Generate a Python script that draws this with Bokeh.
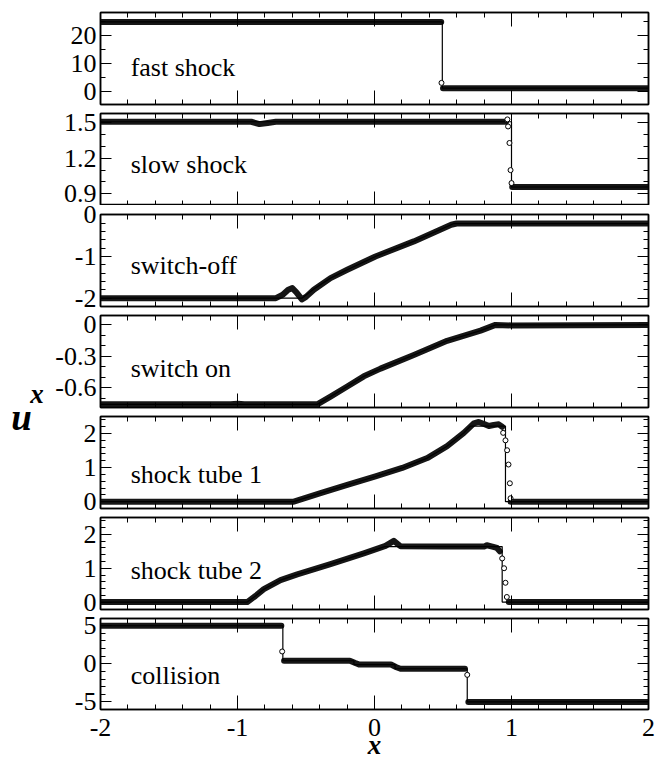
import numpy as np
from bokeh.plotting import figure
from bokeh.layouts import row, column
from bokeh.models import Range1d, FixedTicker, LinearAxis, PrintfTickFormatter, Label
from bokeh.embed import file_html
from bokeh.resources import INLINE

nan = float("nan")

# ---------------- data ----------------
x_major_ticks = [-2, -1, 0, 1, 2]
x_minor_ticks = [-1.8, -1.6, -1.4, -1.2, -0.8, -0.6, -0.4, -0.2,
                 0.2, 0.4, 0.6, 0.8, 1.2, 1.4, 1.6, 1.8]

# fast shock
fast_exact_x = [-2.0, 0.495, 0.495, 2.0]
fast_exact_y = [25.0, 25.0, 1.09, 1.09]
fast_num_x = [-2.0, 0.487, nan, 0.50, 2.0]
fast_num_y = [25.0, 25.0, nan, 1.09, 1.09]
fast_circ_x = [0.489]
fast_circ_y = [3.0]

# slow shock
slow_exact_x = [-2.0, 1.0, 1.0, 2.0]
slow_exact_y = [1.51, 1.51, 0.957, 0.957]
slow_num_x = [-2.0, -0.9, -0.84, -0.78, -0.72, 0.96, nan, 1.005, 2.0]
slow_num_y = [1.51, 1.51, 1.49, 1.50, 1.51, 1.51, nan, 0.957, 0.957]
slow_circ_x = [0.97, 0.975, 0.985, 0.993, 1.0]
slow_circ_y = [1.53, 1.47, 1.33, 1.10, 0.99]

# switch-off
soff_exact_x = [-2.0, -0.53, -0.443, -0.321, -0.199, 0.007, 0.287, 0.579, 2.0]
soff_exact_y = [-2.0, -2.0, -1.78, -1.52, -1.32, -1.0, -0.64, -0.212, -0.212]
soff_num_x = [-2.0, -0.72, -0.67, -0.63, -0.60, -0.57, -0.53, -0.50, -0.443,
              -0.321, -0.199, 0.007, 0.287, 0.56, 0.60, 2.0]
soff_num_y = [-2.0, -2.0, -1.92, -1.80, -1.76, -1.86, -2.03, -1.97, -1.80,
              -1.52, -1.32, -1.0, -0.64, -0.24, -0.212, -0.212]

# switch on
son_exact_x = [-2.0, -0.418, -0.321, -0.199, -0.078, 0.044, 0.287, 0.53, 0.774, 0.883, 2.0]
son_exact_y = [-0.76, -0.76, -0.686, -0.589, -0.492, -0.418, -0.288, -0.152, -0.055, 0.0, 0.0]
son_num_x = [-2.0, -1.05, -1.0, -0.95, -0.418, -0.321, -0.199, -0.078, 0.044,
             0.287, 0.53, 0.774, 0.883, 1.0, 2.0]
son_num_y = [-0.76, -0.76, -0.755, -0.76, -0.76, -0.686, -0.589, -0.492, -0.418,
             -0.288, -0.152, -0.055, 0.0, -0.005, 0.0]

# shock tube 1
st1_exact_x = [-2.0, -0.589, -0.394, -0.199, 0.007, 0.202, 0.385, 0.53, 0.652, 0.70,
               0.956, 0.956, 2.0]
st1_exact_y = [0.0, 0.0, 0.25, 0.49, 0.74, 0.99, 1.28, 1.63, 2.02, 2.22,
               2.22, 0.0, 0.0]
st1_num_x = [-2.0, -0.589, -0.394, -0.199, 0.007, 0.202, 0.385, 0.53, 0.652, 0.725,
             0.761, 0.80, 0.835, 0.87, 0.907, 0.932, nan, 0.993, 2.0]
st1_num_y = [0.0, 0.0, 0.25, 0.49, 0.74, 0.99, 1.28, 1.63, 2.02, 2.30,
             2.34, 2.28, 2.22, 2.25, 2.27, 2.20, nan, 0.0, 0.0]
st1_circ_x = [0.939, 0.956, 0.968, 0.978, 0.988, 0.993]
st1_circ_y = [2.02, 1.80, 1.51, 1.09, 0.54, 0.10]

# shock tube 2
st2_exact_x = [-2.0, -0.929, -0.869, -0.808, -0.686, -0.564, -0.321, -0.078, 0.075,
               0.932, 0.932, 2.0]
st2_exact_y = [0.0, 0.0, 0.18, 0.38, 0.65, 0.82, 1.12, 1.44, 1.64,
               1.64, 0.0, 0.0]
st2_num_x = [-2.0, -0.929, -0.869, -0.808, -0.686, -0.564, -0.321, -0.078, 0.08, 0.141,
             0.19, 0.5, 0.80, 0.82, 0.86, 0.894, 0.915, nan, 0.98, 2.0]
st2_num_y = [0.0, 0.0, 0.18, 0.38, 0.65, 0.82, 1.12, 1.44, 1.66, 1.81,
             1.65, 1.64, 1.64, 1.68, 1.64, 1.60, 1.50, nan, 0.0, 0.0]
st2_circ_x = [0.932, 0.946, 0.956, 0.966]
st2_circ_y = [1.29, 1.0, 0.57, 0.15]

# collision
col_exact_x = [-2.0, -0.669, -0.669, -0.15, -0.15, 0.15, 0.15, 0.677, 0.677, 2.0]
col_exact_y = [5.0, 5.0, 0.4, 0.4, -0.1, -0.1, -0.65, -0.65, -5.0, -5.0]
col_num_x = [-2.0, -0.68, nan, -0.66, -0.18, -0.14, -0.11, 0.12, 0.16, 0.19, 0.66, nan, 0.685, 2.0]
col_num_y = [5.0, 5.0, nan, 0.4, 0.4, 0.1, -0.1, -0.1, -0.45, -0.65, -0.65, nan, -5.0, -5.0]
col_circ_x = [-0.674, 0.677]
col_circ_y = [1.62, -1.45]

panel_names = ["fast shock", "slow shock", "switch-off", "switch on",
               "shock tube 1", "shock tube 2", "collision"]

# ---------------- drawing ----------------
SERIF = "Liberation Serif"
BAND = "#161616"


def make_axis(major, minor, show_labels, major_len):
    ax = LinearAxis(ticker=FixedTicker(ticks=major, minor_ticks=minor),
                    formatter=PrintfTickFormatter(format="%g"))
    ax.major_tick_in = major_len
    ax.major_tick_out = 0
    ax.minor_tick_in = 5
    ax.minor_tick_out = 0
    ax.major_tick_line_color = "black"
    ax.minor_tick_line_color = "black"
    ax.major_tick_line_width = 1
    ax.minor_tick_line_width = 1
    ax.axis_line_color = "black"
    ax.axis_line_width = 1.5
    if show_labels:
        ax.major_label_text_font = SERIF
        ax.major_label_text_font_size = "26px"
        ax.major_label_text_color = "black"
    else:
        ax.major_label_text_font_size = "0px"
        ax.major_label_text_color = None
        ax.major_label_standoff = 0
    return ax


def panel(idx, yr, ymaj, ymin, ex, ey, nx, ny, cx, cy, label_y,
          height, top, bottom, last=False):
    p = figure(width=617, height=height, x_range=Range1d(-2, 2),
               y_range=Range1d(*yr), output_backend="svg", toolbar_location=None,
               x_axis_type=None, y_axis_type=None,
               min_border_left=50, min_border_right=19,
               min_border_top=top, min_border_bottom=bottom)
    p.outline_line_color = "black"
    p.outline_line_width = 1.5
    p.background_fill_color = "white"
    p.border_fill_color = "white"

    left = make_axis(ymaj, ymin, True, 11)
    left.major_label_standoff = 4
    p.add_layout(left, "left")
    p.add_layout(make_axis(ymaj, ymin, False, 11), "right")
    p.add_layout(make_axis(x_major_ticks, x_minor_ticks, False, 14), "above")
    bottom_ax = make_axis(x_major_ticks, x_minor_ticks, last, 14)
    if last:
        bottom_ax.major_label_standoff = 9
        bottom_ax.axis_label = "x"
        bottom_ax.axis_label_text_font = SERIF
        bottom_ax.axis_label_text_font_size = "27px"
        bottom_ax.axis_label_text_font_style = "bold italic"
        bottom_ax.axis_label_text_color = "black"
        bottom_ax.axis_label_standoff = -9
    p.add_layout(bottom_ax, "below")

    p.line(np.array(nx, dtype=float), np.array(ny, dtype=float), line_width=6,
           line_color=BAND, line_join="round", line_cap="round")
    p.line(np.array(ex, dtype=float), np.array(ey, dtype=float), line_width=1.2,
           line_color="black")
    if cx:
        p.scatter(cx, cy, marker="circle", size=5, line_color="black",
                  fill_color="white", line_width=1)

    p.add_layout(Label(x=-1.78, y=label_y, text=panel_names[idx], text_font=SERIF,
                       text_font_size="26px", text_color="black",
                       text_baseline="alphabetic", text_align="left"))
    return p


figs = []
figs.append(panel(0, (-4.8, 28.4), [0, 10, 20], [5, 15, 25],
                  fast_exact_x, fast_exact_y, fast_num_x, fast_num_y,
                  fast_circ_x, fast_circ_y, 8.4, 108, 12, 4))
figs.append(panel(1, (0.80, 1.58), [0.9, 1.2, 1.5], [1.0, 1.1, 1.3, 1.4],
                  slow_exact_x, slow_exact_y, slow_num_x, slow_num_y,
                  slow_circ_x, slow_circ_y, 1.15, 97, 5, 0))
figs.append(panel(2, (-2.2, 0.005), [-2, -1, 0],
                  [-1.8, -1.6, -1.4, -1.2, -0.8, -0.6, -0.4, -0.2],
                  soff_exact_x, soff_exact_y, soff_num_x, soff_num_y,
                  [], [], -1.224, 105, 9, 4))
figs.append(panel(3, (-0.79, 0.09), [-0.6, -0.3, 0], [-0.7, -0.5, -0.4, -0.2, -0.1],
                  son_exact_x, son_exact_y, son_num_x, son_num_y,
                  [], [], -0.414, 101, 5, 4))
figs.append(panel(4, (-0.2, 2.5), [0, 1, 2],
                  [0.2, 0.4, 0.6, 0.8, 1.2, 1.4, 1.6, 1.8, 2.2, 2.4],
                  st1_exact_x, st1_exact_y, st1_num_x, st1_num_y,
                  st1_circ_x, st1_circ_y, 0.789, 101, 5, 4))
figs.append(panel(5, (-0.22, 2.5), [0, 1, 2],
                  [0.2, 0.4, 0.6, 0.8, 1.2, 1.4, 1.6, 1.8, 2.2, 2.4],
                  st2_exact_x, st2_exact_y, st2_num_x, st2_num_y,
                  st2_circ_x, st2_circ_y, 0.924, 101, 5, 4))
figs.append(panel(6, (-6.0, 5.95), [-5, 0, 5], [-4, -3, -2, -1, 1, 2, 3, 4],
                  col_exact_x, col_exact_y, col_num_x, col_num_y,
                  col_circ_x, col_circ_y, -1.49, 149, 5, 52, last=True))

# y-axis title (u^x) in its own narrow column
lf = figure(width=50, height=762, x_range=Range1d(0, 50), y_range=Range1d(0, 762),
            output_backend="svg", toolbar_location=None,
            x_axis_type=None, y_axis_type=None, min_border=0)
lf.outline_line_color = None
lf.add_layout(Label(x=21, y=345, text="u", text_font=SERIF,
                    text_font_size="37px", text_font_style="bold italic",
                    text_color="black", text_align="center",
                    text_baseline="alphabetic"))
lf.add_layout(Label(x=36.5, y=369, text="x", text_font=SERIF,
                    text_font_size="27px", text_font_style="bold italic",
                    text_color="black", text_align="center",
                    text_baseline="alphabetic"))

layout = row(lf, column(*figs, spacing=0), spacing=0)

with open("out.html", "w") as f:
    f.write(file_html(layout, INLINE))
